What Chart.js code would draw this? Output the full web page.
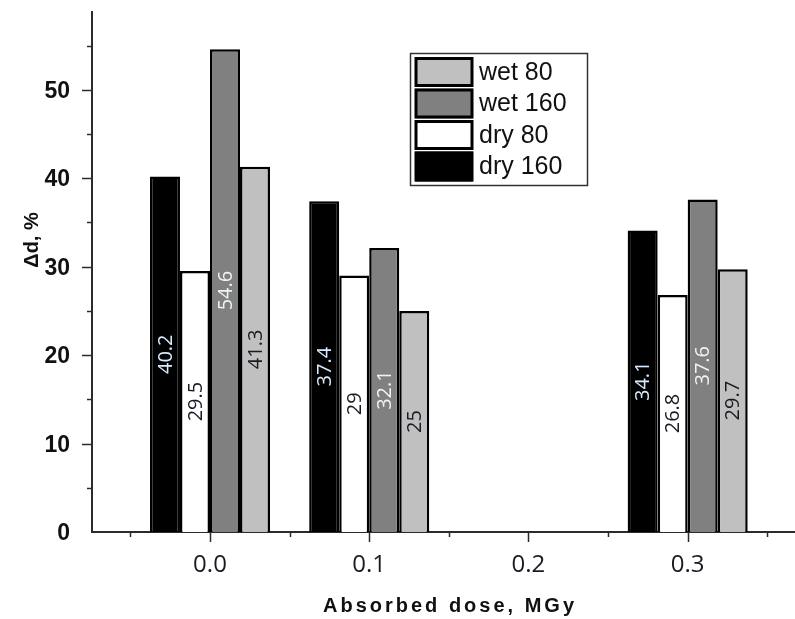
<!DOCTYPE html>
<html>
<head>
<meta charset="utf-8">
<script src="https://cdn.jsdelivr.net/npm/chart.js@4.4.1/dist/chart.umd.min.js"></script>
<style>
  html, body { margin: 0; background: #fff; }
</style>
</head>
<body>
<canvas id="chart" width="795" height="619"></canvas>
<script>
// absorbed dose groups (MGy); 0.2 has no measurements
const doses = [0.0, 0.1, 0.3];
const dry160 = [40.2, 37.4, 34.1];
const dry80 = [29.5, 29, 26.8];
const wet160 = [54.6, 32.1, 37.6];
const wet80 = [41.3, 25, 29.7];
const seriesNames = ["dry 160", "dry 80", "wet 160", "wet 80"];
const xTickValues = [0, 0.1, 0.2, 0.3];
const yTickValues = [0, 10, 20, 30, 40, 50];

const fills = ["#000000", "#ffffff", "#808080", "#c0c0c0"];
const labelInk = ["#d6ebff", "#1a1a24", "#eef3f7", "#1a1a24"];
const axisInk = "#2b2b2b";
const numFont = '"Open Sans", "Noto Sans", sans-serif';
const arial = '"Liberation Sans", Arial, sans-serif';

const toPoints = (vals) => vals.map((v, i) => ({ x: doses[i], y: v }));
const seriesValues = [dry160, dry80, wet160, wet80];

// ticks (major + minor), tick labels, rotated value labels, framed legend, axis titles
const decor = {
  id: "decor",
  afterDatasetsDraw(chart) {
    const ctx = chart.ctx;
    ctx.save();
    ctx.font = `20px ${numFont}`;
    ctx.textAlign = "center";
    ctx.textBaseline = "middle";
    chart.data.datasets.forEach((ds, di) => {
      const meta = chart.getDatasetMeta(di);
      meta.data.forEach((bar, i) => {
        const { x, y, base } = bar.getProps(["x", "y", "base"], true);
        ctx.save();
        ctx.translate(x + 1, (y + base) / 2);
        ctx.rotate(-Math.PI / 2);
        ctx.fillStyle = labelInk[di];
        ctx.fillText(String(seriesValues[di][i]), 0, 0);
        ctx.restore();
      });
    });
    ctx.restore();
  },
  afterDraw(chart) {
    const ctx = chart.ctx;
    const xs = chart.scales.x;
    const ys = chart.scales.y;
    const area = chart.chartArea;
    ctx.save();
    ctx.strokeStyle = axisInk;
    ctx.lineWidth = 1.5;
    for (let k = -1; k <= 7; k++) {
      const v = k * 0.05;
      const px = Math.round(xs.getPixelForValue(v)) + 0.5;
      const len = k % 2 === 0 ? 10 : 5;
      ctx.beginPath();
      ctx.moveTo(px, area.bottom);
      ctx.lineTo(px, area.bottom + len);
      ctx.stroke();
    }
    for (let v = 5; v <= 55; v += 5) {
      const py = Math.round(ys.getPixelForValue(v)) + 0.5;
      const len = v % 10 === 0 ? 10 : 5;
      ctx.beginPath();
      ctx.moveTo(area.left, py);
      ctx.lineTo(area.left - len, py);
      ctx.stroke();
    }

    // tick labels
    ctx.textBaseline = "alphabetic";
    ctx.textAlign = "center";
    ctx.fillStyle = "#1a1a24";
    ctx.font = `24px ${numFont}`;
    xTickValues.forEach((v) => {
      ctx.fillText(v.toFixed(1), xs.getPixelForValue(v), area.bottom + 40);
    });
    ctx.textAlign = "right";
    ctx.fillStyle = "#111";
    ctx.font = `bold 23px ${arial}`;
    yTickValues.forEach((v) => {
      ctx.fillText(String(v), 70, ys.getPixelForValue(v) + 8);
    });

    // axis titles
    ctx.fillStyle = "#111";
    ctx.textAlign = "center";
    ctx.textBaseline = "middle";
    ctx.font = `bold 20px ${arial}`;
    ctx.letterSpacing = "3px";
    ctx.fillText("Absorbed dose, MGy", 450, 606);
    ctx.letterSpacing = "0px";
    ctx.save();
    ctx.translate(32, 240);
    ctx.rotate(-Math.PI / 2);
    ctx.font = `bold 20px ${arial}`;
    ctx.fillText("\u0394d, %", 0, 0);
    ctx.restore();

    // legend
    ctx.lineWidth = 1.5;
    ctx.strokeStyle = "#333";
    ctx.strokeRect(410.5, 53.5, 177, 132);
    const order = [3, 2, 1, 0];
    order.forEach((di, row) => {
      const top = 57 + row * 31.5;
      ctx.fillStyle = fills[di];
      ctx.fillRect(415, top, 58, 30);
      ctx.lineWidth = 3;
      ctx.strokeStyle = "#000";
      ctx.strokeRect(416, top + 1.5, 56, 27);
      ctx.fillStyle = "#111";
      ctx.textAlign = "left";
      ctx.font = `25px ${arial}`;
      ctx.fillText(seriesNames[di], 479, top + 16);
    });
    ctx.restore();
  },
};

new Chart(document.getElementById("chart"), {
  type: "bar",
  data: {
    datasets: seriesNames.map((name, i) => ({
      label: name,
      data: toPoints(seriesValues[i]),
      backgroundColor: fills[i],
      borderColor: "#000",
      borderWidth: 2.5,
      borderSkipped: "bottom",
      categoryPercentage: 0.754,
      barPercentage: 1.0,
    })),
  },
  options: {
    responsive: false,
    animation: false,
    layout: { padding: { top: 12, right: 0, left: 0, bottom: 0 } },
    plugins: {
      legend: { display: false },
      tooltip: { enabled: false },
    },
    scales: {
      x: {
        type: "linear",
        bounds: "data",
        offset: false,
        min: -0.0741,
        max: 0.3674,
        afterFit: (s) => { s.height = 87; },
        afterBuildTicks: (s) => { s.ticks = xTickValues.map((v) => ({ value: v })); },
        grid: { display: false, drawTicks: false },
        border: { display: true, color: axisInk, width: 2 },
        ticks: { display: false },
      },
      y: {
        bounds: "data",
        min: 0,
        max: 58.8,
        afterFit: (s) => { s.width = 92; },
        afterBuildTicks: (s) => { s.ticks = yTickValues.map((v) => ({ value: v })); },
        grid: { display: false, drawTicks: false },
        border: { display: true, color: axisInk, width: 2 },
        ticks: { display: false },
      },
    },
  },
  plugins: [decor],
});
</script>
</body>
</html>
